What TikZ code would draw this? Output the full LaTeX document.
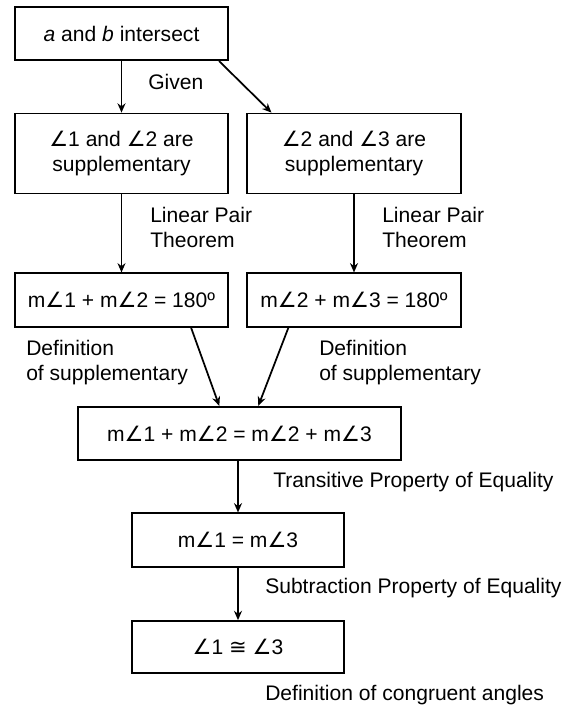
\documentclass[tikz,border=0pt]{standalone}
\usepackage{fontspec}
\setmainfont{Liberation Sans}
\newfontfamily\symfont{DejaVu Sans}
\usetikzlibrary{arrows.meta,calc}
\newcommand{\angsym}{{\symfont\char"2220}}
\newcommand{\congsym}{{\symfont\char"2245}}
\begin{document}
\begin{tikzpicture}[x=0.75pt, y=-0.75pt,
    box/.style={draw, line width=1.3pt, align=center, inner sep=0pt},
    arr/.style={-{Stealth[length=7pt,width=6pt]}, line width=1.3pt},
    lbl/.style={anchor=west, align=left, inner sep=0pt},
    every node/.style={font=\fontsize{15.8}{18.75}\selectfont}]
    \useasboundingbox (0,0) rectangle (583,709);

    % Boxes of the proof
    \node[box, minimum width=160pt, minimum height=40pt] (given) at (121.5,33.5) {\textit{a} and \textit{b} intersect};
    \node[box, minimum width=160pt, minimum height=60pt] (sup12) at (121.5,153.5) {\angsym1 and \angsym2 are\\supplementary};
    \node[box, minimum width=160pt, minimum height=60pt] (sup23) at (354,153.5) {\angsym2 and \angsym3 are\\supplementary};
    \node[box, minimum width=160pt, minimum height=40pt] (sum12) at (121.5,300) {m\angsym1 + m\angsym2 = 180º};
    \node[box, minimum width=160pt, minimum height=40pt] (sum23) at (354,300) {m\angsym2 + m\angsym3 = 180º};
    \node[box, minimum width=242pt, minimum height=40pt] (equal) at (239.5,433.5) {m\angsym1 + m\angsym2 = m\angsym2 + m\angsym3};
    \node[box, minimum width=159pt, minimum height=40pt] (m13) at (238,540) {m\angsym1 = m\angsym3};
    \node[box, minimum width=159pt, minimum height=39pt] (cong) at (238,647) {\angsym1 \congsym{} \angsym3};

    % Arrows between the boxes
    \draw[arr] (given.south) -- (sup12.north);
    \draw[arr] ($(given.south east)+(-10,0)$) -- ($(sup23.north west)+(25,0)$);
    \draw[arr] (sup12.south) -- (sum12.north);
    \draw[arr] (sup23.south) -- (sum23.north);
    \draw[arr] ($(sum12.south east)+(-38,0)$) -- ($(equal.north west)+(142,0)$);
    \draw[arr] ($(sum23.south west)+(42,0)$) -- ($(equal.north west)+(181,0)$);
    \draw[arr] (m13.north |- equal.south) -- (m13.north);
    \draw[arr] (m13.south) -- (cong.north);

    % Reasons
    \node[lbl] (rgiven) at (148,82) {Given};
    \node[lbl] (rlin1) at (150,227.5) {Linear Pair\\Theorem};
    \node[lbl] (rlin2) at (382,227.5) {Linear Pair\\Theorem};
    \node[lbl] (rdef1) at (26,362.5) {Definition\\of supplementary};
    \node[lbl] (rdef2) at (319,362.5) {Definition\\of supplementary};
    \node[lbl] (rtrans) at (273,482) {Transitive Property of Equality};
    \node[lbl] (rsub) at (265,588) {Subtraction Property of Equality};
    \node[lbl] (rcong) at (265,695) {Definition of congruent angles};
\end{tikzpicture}
\end{document}
